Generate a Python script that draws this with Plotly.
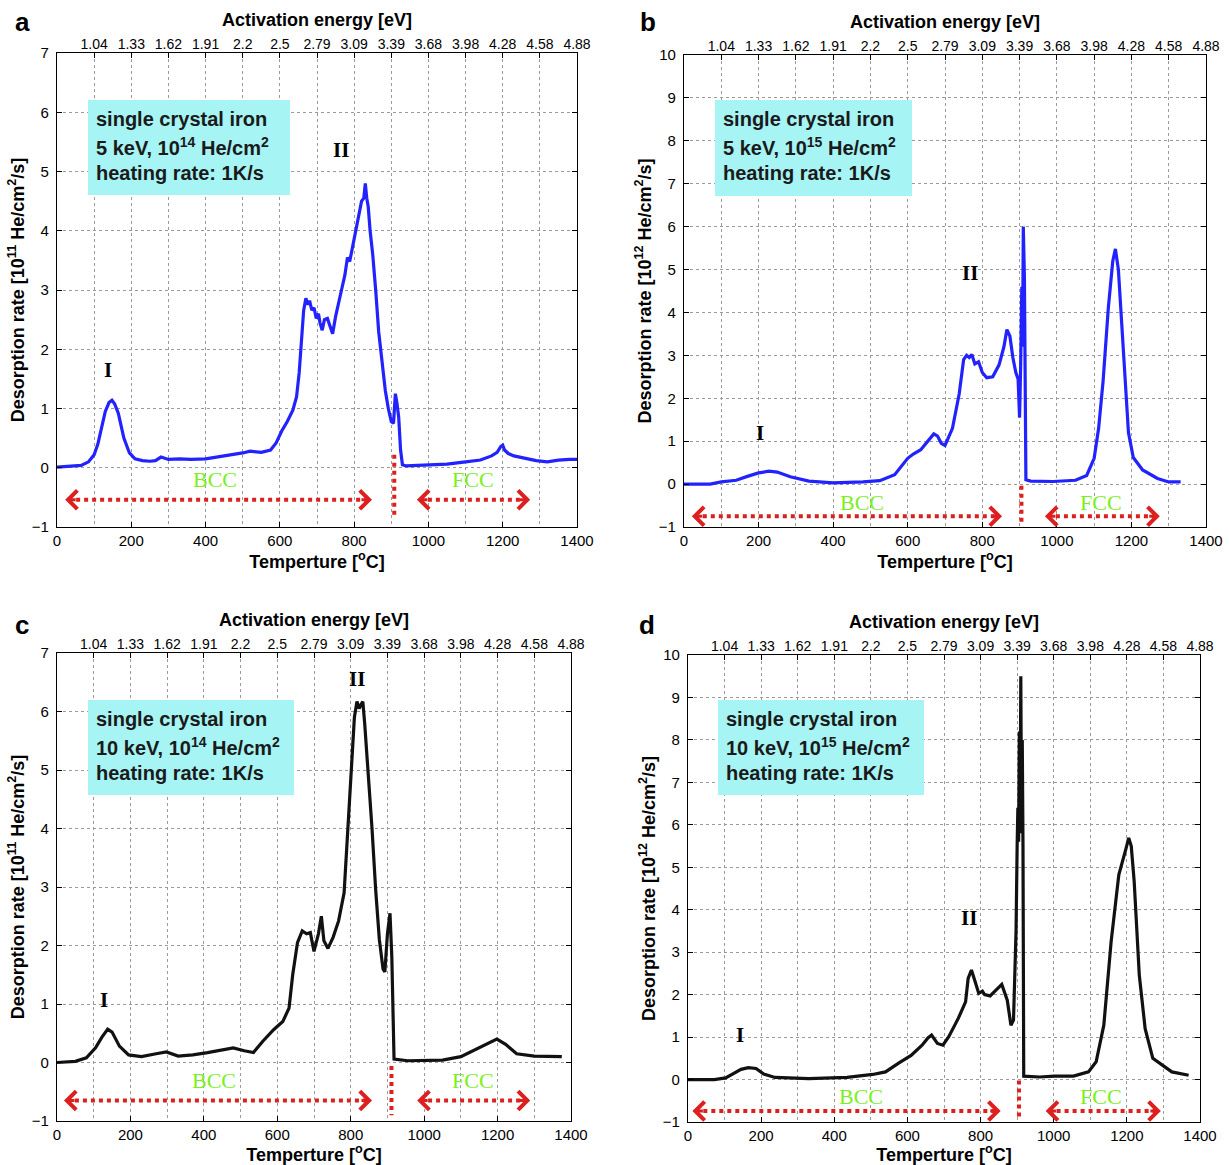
import plotly.graph_objects as go

W, H = 1230, 1165

# ---------------- data (temperature [°C], desorption rate) ----------------
a_points = [(0,0.01),(30,0.03),(65,0.04),(85,0.1),(100,0.22),(110,0.4),(120,0.65),(130,0.95),(140,1.1),(148,1.14),
            (155,1.08),(165,0.92),(180,0.5),(195,0.25),(210,0.15),(230,0.12),(250,0.11),(265,0.12),(280,0.18),(300,0.14),
            (330,0.15),(360,0.14),(400,0.15),(430,0.18),(460,0.2),(500,0.25),(520,0.28),(550,0.26),(575,0.3),(590,0.42),
            (605,0.62),(620,0.78),(635,0.97),(645,1.2),(652,1.6),(658,2.2),(664,2.65),(670,2.86),(676,2.75),(680,2.82),
            (686,2.66),(692,2.7),(698,2.52),(704,2.6),(708,2.45),(714,2.32),(720,2.5),(728,2.52),(735,2.38),(742,2.26),
            (750,2.55),(758,2.75),(766,3.0),(775,3.25),(782,3.55),(788,3.48),(795,3.7),(803,3.95),(812,4.3),(820,4.5),
            (826,4.55),(830,4.8),(834,4.55),(838,4.4),(843,4.0),(850,3.6),(858,3.0),(866,2.3),(875,1.8),(884,1.3),
            (892,1.0),(900,0.78),(906,0.75),(911,1.25),(915,1.1),(920,0.85),(925,0.3),(930,0.05),(940,0.03),(970,0.04),
            (1000,0.05),(1050,0.06),(1100,0.1),(1140,0.13),(1170,0.2),(1185,0.26),(1195,0.36),(1200,0.38),(1205,0.3),(1215,0.24),
            (1230,0.2),(1260,0.16),(1290,0.12),(1320,0.1),(1350,0.13),(1380,0.14),(1400,0.14)]

b_points = [(0,0),(70,0.0),(100,0.05),(140,0.09),(170,0.18),(200,0.26),(228,0.3),(250,0.28),(285,0.17),(335,0.07),
            (400,0.03),(480,0.05),(525,0.08),(565,0.22),(600,0.6),(615,0.7),(635,0.8),(655,1.02),(670,1.17),(680,1.12),
            (690,0.95),(700,0.9),(720,1.3),(738,2.1),(750,2.9),(758,3.0),(765,2.95),(772,3.02),(780,2.8),(790,2.85),
            (800,2.6),(812,2.48),(828,2.5),(845,2.78),(858,3.2),(866,3.6),(874,3.45),(882,2.95),(890,2.6),(896,2.45),
            (900,1.55),(903,2.8),(906,4.6),(908,3.2),(910,6.0),(913,4.8),(915,2.0),(917,0.1),(930,0.07),(990,0.06),
            (1050,0.09),(1080,0.2),(1100,0.6),(1112,1.3),(1124,2.4),(1138,4.1),(1150,5.2),(1157,5.48),(1165,5.0),(1178,3.1),
            (1192,1.2),(1205,0.62),(1230,0.33),(1270,0.13),(1300,0.05),(1332,0.05)]

c_points = [(0,0.0),(50,0.02),(80,0.08),(105,0.25),(122,0.43),(138,0.57),(150,0.52),(170,0.28),(195,0.13),(230,0.1),
            (270,0.15),(298,0.18),(330,0.11),(370,0.13),(410,0.17),(450,0.21),(480,0.25),(510,0.2),(535,0.17),(560,0.36),
            (590,0.56),(615,0.7),(632,0.93),(642,1.5),(655,2.05),(668,2.25),(680,2.2),(690,2.22),(700,1.9),(712,2.2),
            (720,2.5),(727,2.08),(738,1.95),(752,2.14),(767,2.42),(782,2.9),(790,3.8),(800,4.95),(810,5.9),(817,6.17),
            (823,6.05),(828,6.12),(833,6.17),(838,5.8),(848,4.94),(858,4.0),(868,2.95),(878,2.1),(888,1.6),(893,1.55),
            (900,2.2),(907,2.55),(912,1.8),(918,0.06),(955,0.03),(1050,0.04),(1100,0.1),(1150,0.26),(1180,0.35),(1198,0.4),
            (1222,0.31),(1252,0.15),(1300,0.11),(1375,0.1)]

d_points = [(0,0),(72,0),(103,0.04),(124,0.14),(145,0.24),(165,0.28),(186,0.26),(207,0.13),(238,0.05),(330,0.02),
            (435,0.05),(505,0.12),(540,0.18),(578,0.4),(610,0.57),(640,0.81),(656,0.98),(666,1.05),(682,0.85),(697,0.81),
            (713,1.01),(739,1.44),(759,1.83),(766,2.38),(775,2.58),(785,2.31),(795,2.03),(805,2.08),(811,2.0),(826,1.97),
            (847,2.15),(858,2.24),(873,1.87),(883,1.28),(890,1.4),(897,3.5),(900,5.5),(902,6.4),(904,5.6),(906,8.2),
            (908,5.8),(910,9.5),(912,6.0),(914,8.0),(916,5.5),(918,0.08),(961,0.06),(1002,0.08),(1054,0.08),(1095,0.18),
            (1116,0.42),(1137,1.28),(1157,3.25),(1178,4.82),(1198,5.45),(1205,5.69),(1212,5.5),(1220,4.67),(1234,2.46),(1250,1.2),
            (1271,0.5),(1302,0.3),(1323,0.18),(1369,0.1)]

bottom_ticks = [0, 200, 400, 600, 800, 1000, 1200, 1400]
top_tickvals = [100, 200, 300, 400, 500, 600, 700, 800, 900, 1000, 1100, 1200, 1300, 1400]
top_ticktext = ["1.04", "1.33", "1.62", "1.91", "2.2", "2.5", "2.79", "3.09", "3.39", "3.68", "3.98", "4.28", "4.58", "4.88"]

panel_letters = ["a", "b", "c", "d"]
exponents = ["11", "12", "11", "12"]
box_lines = [
    ["single crystal iron", "5 keV, 10<sup>14</sup> He/cm<sup>2</sup>", "heating rate: 1K/s"],
    ["single crystal iron", "5 keV, 10<sup>15</sup> He/cm<sup>2</sup>", "heating rate: 1K/s"],
    ["single crystal iron", "10 keV, 10<sup>14</sup> He/cm<sup>2</sup>", "heating rate: 1K/s"],
    ["single crystal iron", "10 keV, 10<sup>15</sup> He/cm<sup>2</sup>", "heating rate: 1K/s"],
]
y_ranges = [(-1, 7), (-1, 10), (-1, 7), (-1, 10)]
curve_colors = ["#2222ff", "#2222ff", "#111111", "#111111"]
all_points = [a_points, b_points, c_points, d_points]

# peak labels (x, y) and phase annotations
peak_I = [(137, 1.65), (204, 1.19), (128, 1.06), (142, 1.05)]
peak_II = [(765, 5.36), (767, 4.92), (817, 6.55), (767, 3.81)]
bcc_label = [(425, -0.2), (477, -0.42), (428, -0.31), (474, -0.39)]
fcc_label = [(1120, -0.2), (1118, -0.42), (1133, -0.31), (1129, -0.39)]
bcc_arrow = [(22, 848, -0.54), (21, 853, -0.75), (19, 858, -0.65), (12, 855, -0.74)]
fcc_arrow = [(969, 1274, -0.54), (968, 1276, -0.75), (981, 1289, -0.65), (978, 1293, -0.74)]
transition = [(908, 0.22, -0.85), (905, -0.04, -0.96), (911, -0.06, -0.9), (905, -0.02, -0.92)]

# ---------------- layout geometry (pixels) ----------------
plot_px = [(57, 577, 53, 527), (684, 1206, 55, 527), (57, 571, 653, 1121), (688, 1200, 655, 1122)]
box_px = [(88, 290, 100, 195), (715, 912, 100, 196), (88, 294, 700, 795), (718, 924, 700, 795)]
letter_px = [(22, 22), (648, 22), (22, 625), (647, 625)]

def px2paper(x, y):
    return x / W, 1 - y / H

fig = go.Figure()
FONT = "Liberation Sans, Arial, sans-serif"
SERIF = "Liberation Serif, Times New Roman, serif"
RED = "#dd1f1f"
GREEN = "#7cf01e"

layout = dict(width=W, height=H, margin=dict(l=0, r=0, t=0, b=0),
              paper_bgcolor="white", plot_bgcolor="white", showlegend=False,
              font=dict(family=FONT, color="black", size=15))
annotations = []
shapes = []

for i in range(4):
    n = i + 1
    xb = "x" if n == 1 else f"x{n}"
    yb = "y" if n == 1 else f"y{n}"
    xt_n = n + 4
    xt = f"x{xt_n}"
    x0, x1, y0, y1 = plot_px[i]
    dx = [x0 / W, x1 / W]
    dy = [1 - y1 / H, 1 - y0 / H]
    lo, hi = y_ranges[i]

    layout["xaxis" if n == 1 else f"xaxis{n}"] = dict(
        domain=dx, anchor=yb, range=[0, 1400], tickvals=bottom_ticks, automargin=False,
        ticks="inside", ticklen=5, tickcolor="black", showline=True, linecolor="black", linewidth=1.2,
        mirror=True, showgrid=True, gridcolor="#9a9a9a", griddash="dot", gridwidth=1,
        minor=dict(dtick=100, showgrid=True, gridcolor="#9a9a9a", griddash="dot", ticks=""),
        zeroline=False, tickfont=dict(size=15, family=FONT),
        title=dict(text="<b>Temperture [<sup>o</sup>C]</b>", font=dict(size=18, family=FONT), standoff=2),
    )
    layout[f"xaxis{xt_n}"] = dict(
        overlaying=xb, side="top", anchor=yb, range=[0, 1400], tickvals=top_tickvals, ticktext=top_ticktext,
        ticks="inside", ticklen=5, tickcolor="black", showgrid=False, zeroline=False, showline=False,
        automargin=False, tickfont=dict(size=14, family=FONT),
        title=dict(text="<b>Activation energy [eV]</b>", font=dict(size=18, family=FONT), standoff=4),
    )
    layout["yaxis" if n == 1 else f"yaxis{n}"] = dict(
        domain=dy, anchor=xb, range=[lo, hi], dtick=1, ticks="inside", ticklen=5, tickcolor="black",
        showline=True, linecolor="black", linewidth=1.2, mirror="ticks", automargin=False,
        showgrid=True, gridcolor="#9a9a9a", griddash="dot", gridwidth=1, zeroline=False,
        tickfont=dict(size=15, family=FONT), ticklabelstandoff=4,
        title=dict(text=f"<b>Desorption rate [10<sup>{exponents[i]}</sup> He/cm<sup>2</sup>/s]</b>",
                   font=dict(size=18, family=FONT), standoff=2),
    )

    pts = all_points[i]
    xs = [p[0] for p in pts]
    ys = [p[1] for p in pts]

    # transition dotted line
    tx, ty0, ty1 = transition[i]
    fig.add_trace(go.Scatter(x=[tx, tx], y=[ty0, ty1], mode="lines", xaxis=xb, yaxis=yb,
                             line=dict(color=RED, width=4, dash="dot"), hoverinfo="skip"))
    # BCC / FCC dotted double arrows
    for (ax0, ax1, ay) in (bcc_arrow[i], fcc_arrow[i]):
        fig.add_trace(go.Scatter(x=[ax0 + 8, ax1 - 8], y=[ay, ay], mode="lines", xaxis=xb, yaxis=yb,
                                 line=dict(color=RED, width=4, dash="dot"), hoverinfo="skip"))
        for hx, off in ((ax0, 12), (ax1, -12)):
            annotations.append(dict(x=hx, y=ay, xref=xb, yref=yb, ax=off, ay=0, text="", showarrow=True,
                                    arrowhead=4, arrowsize=1.2, arrowwidth=3, arrowcolor=RED))
    # curve
    fig.add_trace(go.Scatter(x=xs, y=ys, mode="lines", xaxis=xb, yaxis=yb,
                             line=dict(color=curve_colors[i], width=3.2), hoverinfo="skip"))
    # invisible trace on top axis
    fig.add_trace(go.Scatter(x=[0, 1400], y=[lo, lo], mode="lines", xaxis=xt, yaxis=yb,
                             line=dict(width=0), opacity=0, hoverinfo="skip"))

    # text box
    bx0, bx1, by0, by1 = box_px[i]
    px0, py1 = px2paper(bx0, by0)
    px1, py0 = px2paper(bx1, by1)
    shapes.append(dict(type="rect", xref="paper", yref="paper", x0=px0, x1=px1, y0=py0, y1=py1,
                       fillcolor="#a6f4f4", line=dict(width=0), layer="above"))
    for k, line in enumerate(box_lines[i]):
        tx_p, ty_p = px2paper(bx0 + 6, by0 + 19 + 27 * k)
        annotations.append(dict(x=tx_p, y=ty_p, xref="paper", yref="paper", text=f"<b>{line}</b>",
                                showarrow=False, xanchor="left", yanchor="middle",
                                font=dict(size=20, family=FONT, color="#1a1a1a")))

    # peak labels
    for lbl, (lx, ly) in (("I", peak_I[i]), ("II", peak_II[i])):
        annotations.append(dict(x=lx, y=ly, xref=xb, yref=yb, text=f"<b>{lbl}</b>", showarrow=False,
                                font=dict(size=21, family=SERIF, color="black")))
    for lbl, (lx, ly) in (("BCC", bcc_label[i]), ("FCC", fcc_label[i])):
        annotations.append(dict(x=lx, y=ly, xref=xb, yref=yb, text=lbl, showarrow=False,
                                font=dict(size=22, family=SERIF, color=GREEN)))

    # panel letter
    lxp, lyp = px2paper(*letter_px[i])
    annotations.append(dict(x=lxp, y=lyp, xref="paper", yref="paper", text=f"<b>{panel_letters[i]}</b>",
                            showarrow=False, xanchor="center", yanchor="middle",
                            font=dict(size=26, family=FONT, color="black")))

layout["annotations"] = annotations
layout["shapes"] = shapes
fig.update_layout(**layout)
fig.write_html("out.html", config={"displayModeBar": False},
               post_script="document.body.style.margin='0';document.body.style.padding='0';"
                           "document.documentElement.style.overflow='hidden';")
